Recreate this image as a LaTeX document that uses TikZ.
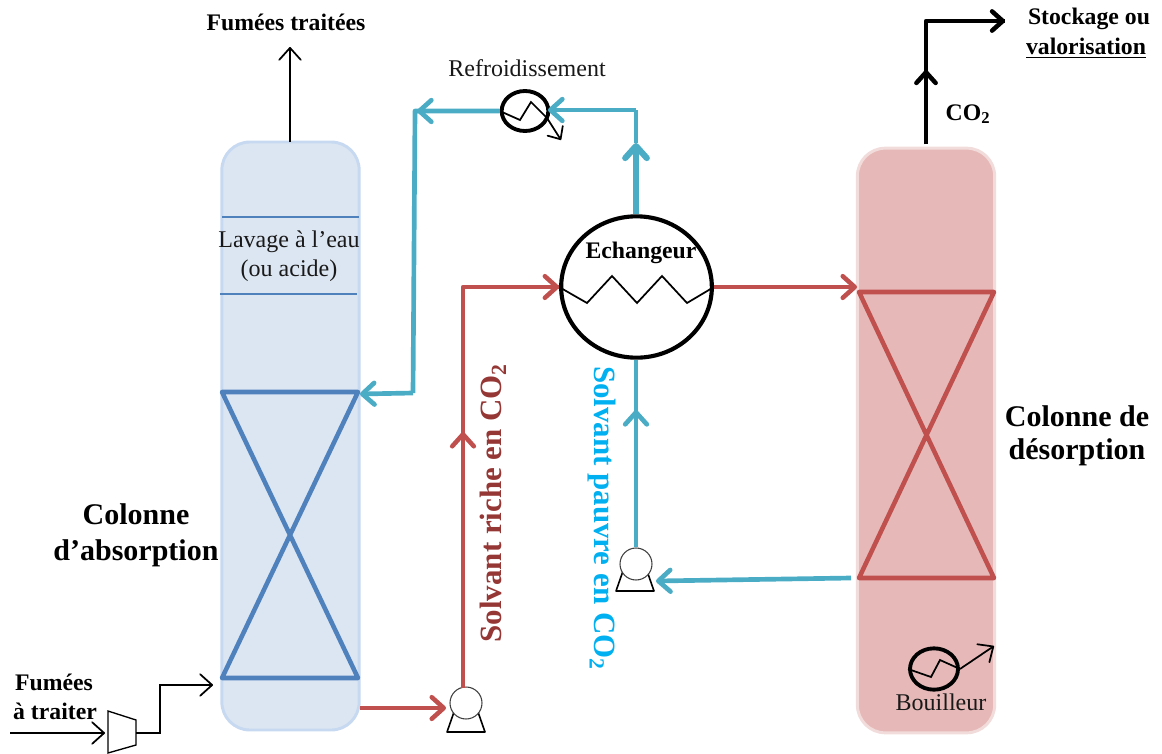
\documentclass[tikz,border=0pt]{standalone}
\usepackage{fontspec}
\setmainfont{Liberation Serif}
\usetikzlibrary{arrows.meta,calc,shapes.geometric}
\definecolor{bluefill}{HTML}{DCE6F2}
\definecolor{blueedge}{HTML}{C6D9F1}
\definecolor{bluepack}{HTML}{4F81BD}
\definecolor{redfill}{HTML}{E6B9B8}
\definecolor{rededge}{HTML}{F2DCDB}
\definecolor{redpack}{HTML}{C0504D}
\definecolor{teal}{HTML}{4BACC6}
\definecolor{richtxt}{HTML}{953735}
\definecolor{leantxt}{HTML}{00B0F0}
\tikzset{
 x=0.75pt,y=-0.75pt,
 colbox/.style={rectangle,rounded corners=21pt,inner sep=0pt,line width=2.2pt,minimum width=103pt},
 barb/.style={-{Straight Barb[length=#1,width=1.8*#1,round]}},
 barb/.default=8pt,
 bluepipe/.style={draw=teal,line width=3.5pt},
 redpipe/.style={draw=redpack,line width=3.4pt},
 co2pipe/.style={draw=black,line width=3.4pt},
 thin1/.style={draw=black,line width=1.3pt},
 hxe/.style={ellipse,draw=black,inner sep=0pt,fill=none,line width=2.9pt},
 pumpc/.style={circle,draw=black!75,fill=white,line width=.8pt,minimum size=24pt,inner sep=0pt},
 lbl/.style={inner sep=0pt,font=\fontsize{17.8pt}{20pt}\selectfont\bfseries,text=black},
 lblr/.style={inner sep=0pt,font=\fontsize{18pt}{20pt}\selectfont,text=black!90},
 big/.style={inner sep=0pt,font=\fontsize{22.5pt}{25pt}\selectfont\bfseries},
 vert/.style={inner sep=0pt,font=\fontsize{23.2pt}{26pt}\selectfont\bfseries},
}
\begin{document}
\begin{tikzpicture}
\useasboundingbox (0,0) rectangle (1162,753);
% columns
\node[colbox,draw=blueedge,fill=bluefill,minimum height=441pt] (colA) at (290.5,436) {};
\node[colbox,draw=rededge,fill=redfill,minimum height=438.5pt] (colD) at (926,440.5) {};
% wash section
\coordinate (w1a) at (222,217); \coordinate (w1b) at (359,217);
\coordinate (w2a) at (220,294); \coordinate (w2b) at (357,294);
\draw[bluepack,line width=1.1pt] (w1a)--(w1b) (w2a)--(w2b);
% packings
\coordinate (aTL) at (222,392); \coordinate (aTR) at (358,392);
\coordinate (aBL) at (222,678); \coordinate (aBR) at (358,678);
\draw[bluepack,line width=3.4pt,line join=round] (aTL)--(aTR)--(aBL)--(aBR)--cycle;
\coordinate (dTL) at (859,292); \coordinate (dTR) at (994,292);
\coordinate (dBL) at (859,578); \coordinate (dBR) at (994,578);
\draw[redpack,line width=3.4pt,line join=round] (dTL)--(dTR)--(dBL)--(dBR)--cycle;
% equipment
\node[hxe,line width=3.1pt,minimum width=113pt,minimum height=106pt] (exch) at (636.5,287) {};
\draw[thin1] (exch.west)--(587,303)--(612,276)--(637,303)--(662,276)--(687,303)--(exch.east);
\node[hxe,minimum width=35pt,minimum height=30pt] (cool) at (525,111) {};
\draw[thin1] (cool.west)--(520,120)--(531,102)--(547,118);
\coordinate (coolend) at (561,140);
\draw[thin1,barb=7.5pt] (547,118)--(coolend);
\node[hxe,minimum width=36pt,minimum height=31pt] (boil) at (934,669) {};
\draw[thin1] (boil.west)--(931,677)--(940,660)--(boil.east);
\coordinate (boilend) at (994,646);
\draw[thin1,barb=9pt] (boil.east)--(boilend);
% pumps
\coordinate (p1a) at (447,732); \coordinate (p1b) at (485,732);
\coordinate (p1c) at (454,712); \coordinate (p1d) at (478,712);
\draw[black,line width=1.2pt,line join=round] (p1c)--(p1a)--(p1b)--(p1d);
\node[pumpc] (pumpA) at (466,703) {};
\coordinate (p2a) at (616,591); \coordinate (p2b) at (654,591);
\coordinate (p2c) at (623,571); \coordinate (p2d) at (647,571);
\draw[black,line width=1.2pt,line join=round] (p2c)--(p2a)--(p2b)--(p2d);
\node[pumpc] (pumpB) at (636,564) {};
% compressor
\coordinate (k1) at (108,711); \coordinate (k2) at (136,720);
\coordinate (k3) at (136,745); \coordinate (k4) at (108,753);
\draw[black,line width=1pt,line join=miter] (k1)--(k2)--(k3)--(k4)--cycle;
% gas lines
\coordinate (gIn) at (10,733); \coordinate (kIn) at (105,733);
\coordinate (kOut) at (136,733); \coordinate (gOut) at (213,685);
\draw[thin1,barb=9pt] (gIn)--(kIn);
\draw[thin1,barb=9pt] (kOut)--(160,733)--(160,685)--(gOut);
\coordinate (topA) at (290,142); \coordinate (topB) at (290,47);
\draw[thin1,barb=9pt] (topA)--(topB);
% CO2
\coordinate (c0) at (926,144); \coordinate (c1) at (926,21);
\coordinate (c2) at (1005,21); \coordinate (cm) at (926,70);
\draw[co2pipe,line join=round] (c0)--(c1)--(c2);
\draw[co2pipe,barb=8pt] (c0)--(cm);
\draw[co2pipe,barb=8pt] (c1)--(c2);
% lean solvent
\coordinate (lnB) at (851,578); \coordinate (lnP) at (656,581);
\draw[bluepipe,barb=9pt] (lnB)--(lnP);
\coordinate (lm1) at (636,410);
\draw[bluepipe] (pumpB.north)--(exch.south -| pumpB.north);
\draw[bluepipe,barb=9pt] (pumpB.north)--(lm1);
\coordinate (lc) at (636,110); \coordinate (lm2) at (636,143);
\draw[bluepipe,line join=round] (lm2)--(lc);
\draw[bluepipe,line width=4.6pt,barb=9pt] (exch.north -| lc)--(lm2);
\coordinate (cin) at (548,110);
\draw[bluepipe,barb=9pt] (lc)--(cin);
\coordinate (lt) at (415,111); \coordinate (lb) at (413,393); \coordinate (ain) at (360,394);
\draw[bluepipe,line join=round] (cool.west)--(lt)--(lb);
\draw[bluepipe,barb=9pt] (cool.west)--(417,111);
\draw[bluepipe,barb=9pt] (lb)--(ain);
% rich solvent
\coordinate (ra) at (360,708); \coordinate (rp) at (446,708);
\draw[redpipe,barb=9pt] (ra)--(rp);
\coordinate (rv) at (463,688); \coordinate (rc) at (463,287); \coordinate (rm) at (463,432);
\draw[redpipe,line join=round] (rv)--(rc)--(exch.west);
\draw[redpipe,barb=9pt] (rv)--(rm);
\draw[redpipe,barb=9pt] (rc)--(exch.west);
\coordinate (de) at (857,287);
\draw[redpipe,barb=9pt] (exch.east)--(de);
% labels
\node[lbl] (t1) at (286,22) {Fumées traitées};
\node[lblr] (t2) at (527,68) {Refroidissement};
\node[lbl] (t3) at (1089,19) {Stockage ou};
\node[lbl] (t4) at (1086,48) {\underline{valorisation}};
\node[lbl] (t5) at (968,114) {CO\textsubscript{2}};
\node[lblr] (t6) at (289,242) {Lavage à l’eau};
\node[lblr] (t7) at (289,271) {(ou acide)};
\node[big] (t8) at (136,514) {Colonne};
\node[big] (t9) at (136,553) {d’absorption};
\node[big] (t10) at (1077,416) {Colonne de};
\node[big] (t11) at (1077,452) {désorption};
\node[lbl] (t12) at (641,253) {Echangeur};
\node[lblr] (t13) at (941,702) {Bouilleur};
\node[lbl] (t14) at (54,682) {Fumées};
\node[lbl] (t15) at (55,711) {à traiter};
\node[vert,text=richtxt,rotate=90] (t16) at (493,503) {Solvant riche en CO\textsubscript{2}};
\node[vert,text=leantxt,rotate=-90] (t17) at (602,518) {Solvant pauvre en CO\textsubscript{2}};
\end{tikzpicture}
\end{document}
